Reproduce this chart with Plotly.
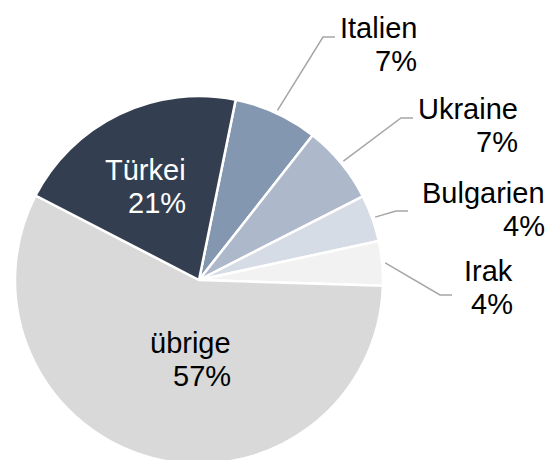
import math
import plotly.graph_objects as go

# ---- data (clockwise, starting at Italien) ----
labels = ["Italien", "Ukraine", "Bulgarien", "Irak", "übrige", "Türkei"]
values = [7.4, 6.9, 4.1, 3.9, 57.1, 20.6]

# ---- style ----
colors = ["#8497B0", "#ADB9CA", "#D6DCE5", "#F2F2F2", "#D9D9D9", "#333F50"]
text_colors = ["#000000", "#000000", "#000000", "#000000", "#000000", "#FFFFFF"]
W, H = 560, 460
OFF = 8                            # page offset of the plot div (body margin)
CX, CY, R = 199, 280, 184          # pie centre / radius in page px
ROTATION = 11.5
FONT = "Liberation Sans, Arial, sans-serif"
FSIZE = 29
PITCH = 33
TEXT_XSHIFT = 2
# label block anchor (right edge x, baseline of first line) in page px
label_anchor = {
    "Italien": (416, 38),
    "Ukraine": (517, 119),
    "Bulgarien": (544, 203),
    "Irak": (512, 281),
    "übrige": (230, 353),
    "Türkei": (185, 180),
}
# end point of leader line (near the label) in page px; None = label inside slice
leader_end = {
    "Italien": (335, 37),
    "Ukraine": (413, 118),
    "Bulgarien": (408, 211),
    "Irak": (452, 295),
    "übrige": None,
    "Türkei": None,
}


def px(x):
    return (x - OFF) / W


def py(y):
    return 1 - (y - OFF) / H


fig = go.Figure(
    go.Pie(
        labels=labels,
        values=values,
        sort=False,
        direction="clockwise",
        rotation=ROTATION,
        marker=dict(colors=colors, line=dict(color="#FFFFFF", width=2.5)),
        textinfo="none",
        hoverinfo="label+percent",
        showlegend=False,
        domain=dict(x=[px(CX - R), px(CX + R)], y=[py(CY + R), py(CY - R)]),
    )
)

total = sum(values)
angle = ROTATION
annotations = []
shapes = []
for lab, v, tc in zip(labels, values, text_colors):
    span = v / total * 360
    mid = math.radians(angle + span / 2)
    angle += span
    pct = round(v / total * 100)
    ax, base = label_anchor[lab]
    for i, line in enumerate([lab, f"{pct}%"]):
        yb = base + i * PITCH - 0.36 * FSIZE
        annotations.append(
            dict(
                x=px(ax), y=py(yb), xref="paper", yref="paper",
                xanchor="right", yanchor="middle", align="right",
                xshift=TEXT_XSHIFT,
                text=line, showarrow=False, borderpad=0,
                font=dict(family=FONT, size=FSIZE, color=tc),
            )
        )
    end = leader_end[lab]
    if end is not None:
        sx = CX + (R + 3) * math.sin(mid)
        sy = CY - (R + 3) * math.cos(mid)
        ex, ey = end
        kx = ex - 12
        path = f"M {px(sx)},{py(sy)} L {px(kx)},{py(ey)} L {px(ex)},{py(ey)}"
        shapes.append(
            dict(type="path", xref="paper", yref="paper", path=path,
                 line=dict(color="#A6A6A6", width=1.5))
        )

fig.update_layout(
    width=W, height=H,
    margin=dict(l=0, r=0, t=0, b=0),
    paper_bgcolor="#FFFFFF",
    plot_bgcolor="#FFFFFF",
    annotations=annotations,
    shapes=shapes,
    font=dict(family=FONT),
)

fig.write_html("out.html")
